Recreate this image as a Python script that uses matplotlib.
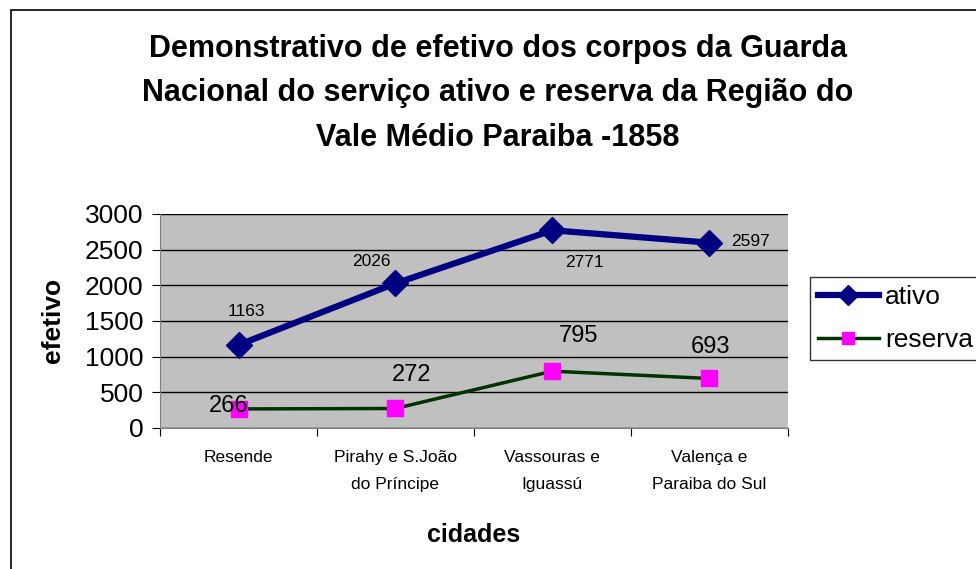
import matplotlib
matplotlib.use("Agg")
import matplotlib.pyplot as plt
from matplotlib.patches import Rectangle

plt.rcParams['font.family'] = ['Liberation Sans', 'DejaVu Sans']

cidades = ["Resende", "Pirahy e S.João\ndo Príncipe", "Vassouras e\nIguassú",
           "Valença e\nParaiba do Sul"]
ativo = [1163, 2026, 2771, 2597]
reserva = [266, 272, 795, 693]

titulo = ("Demonstrativo de efetivo dos corpos da Guarda\n"
          "Nacional do serviço ativo e reserva da Região do\n"
          "Vale Médio Paraiba -1858")

fig = plt.figure(figsize=(9.76, 5.69), dpi=100)
ax = fig.add_axes([0.164, 0.248, 0.643, 0.376])

# moldura externa do gráfico
fig.patches.append(Rectangle((0.011, -0.05), 1.05, 1.032, transform=fig.transFigure,
                             fill=False, edgecolor="black", linewidth=1.2))

x = list(range(len(cidades)))
ax.plot(x, ativo, color="#000080", linewidth=4.5, marker="D", markersize=13,
        label="ativo", zorder=3)
ax.plot(x, reserva, color="#003300", linewidth=2.5, marker="s", markersize=11,
        markerfacecolor="#ff00ff", markeredgecolor="#ff00ff", label="reserva", zorder=3)

# rótulos dos dados
desloc_ativo = [(6, 24, "center"), (-17, 16, "center"), (23, -23, "center"), (16, 1, "left")]
for xi, v, (dx, dy, ha) in zip(x, ativo, desloc_ativo):
    ax.annotate(str(v), (xi, v), xytext=(dx, dy), textcoords="offset points",
                ha=ha, va="center", fontsize=12.5)
desloc_res = [(-7, 2, "center"), (12, 24, "center"), (19, 25, "center"), (1, 23, "center")]
for xi, v, (dx, dy, ha) in zip(x, reserva, desloc_res):
    ax.annotate(str(v), (xi, v), xytext=(dx, dy), textcoords="offset points",
                ha=ha, va="center", fontsize=17)

ax.set_facecolor("#c0c0c0")
ax.set_xlim(-0.5, 3.5)
ax.set_ylim(0, 3000)
ax.set_yticks(range(0, 3001, 500))
ax.yaxis.grid(True, color="black", linewidth=1)
ax.set_axisbelow(True)
ax.set_xticks([-0.5, 0.5, 1.5, 2.5, 3.5])
ax.set_xticklabels([])
ax.set_xticks(x, minor=True)
ax.set_xticklabels(cidades, minor=True, fontsize=12.5, linespacing=2.0)
ax.tick_params(axis="x", which="minor", length=0, pad=16)
ax.tick_params(axis="x", which="major", length=6, direction="out")
ax.tick_params(axis="y", labelsize=19, length=6, direction="out", pad=6)
for s in ["top", "right"]:
    ax.spines[s].set_visible(False)
ax.spines["left"].set_color("#808080")
ax.spines["bottom"].set_color("#808080")

ax.set_xlabel("cidades", fontsize=18, fontweight="bold", labelpad=22)
ax.set_ylabel("efetivo", fontsize=19, fontweight="bold", labelpad=14)

fig.text(0.51, 0.836, titulo, ha="center", va="center", fontsize=22,
         fontweight="bold", linespacing=1.62)

leg = fig.legend(loc="upper left", bbox_to_anchor=(0.83, 0.513), fontsize=19,
                 frameon=True, fancybox=False, edgecolor="black", handlelength=2.3,
                 handletextpad=0.25, borderpad=0.3, labelspacing=0.72, borderaxespad=0,
                 markerscale=0.75)
leg.get_frame().set_linewidth(1)

fig.savefig("out.png", dpi=100)
